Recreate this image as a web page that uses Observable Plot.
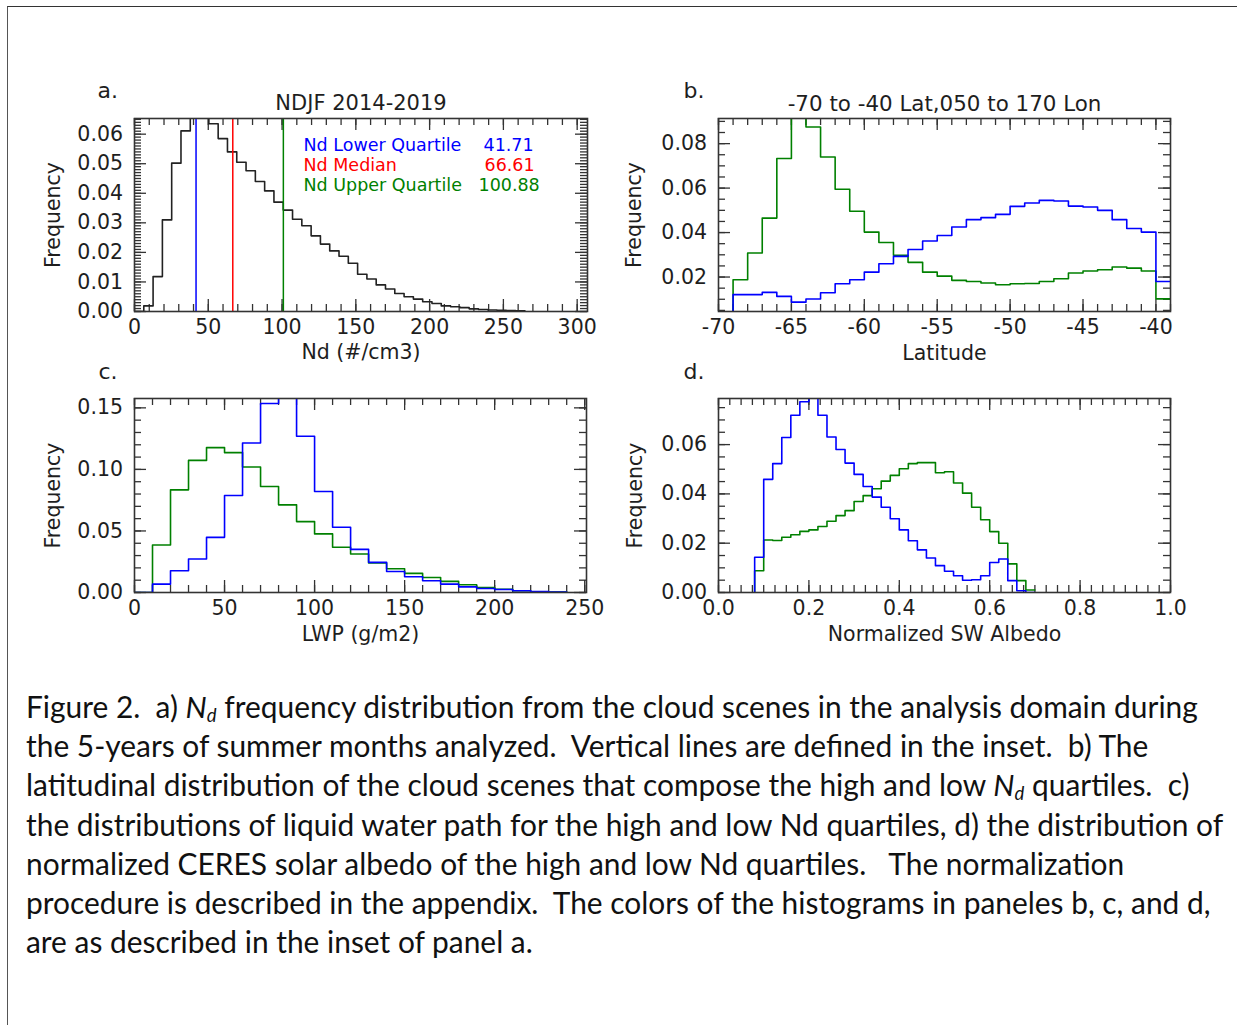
<!DOCTYPE html>
<html>
<head>
<meta charset="utf-8">
<script src="https://cdn.jsdelivr.net/npm/d3@7"></script>
<script src="https://cdn.jsdelivr.net/npm/@observablehq/plot@0.6"></script>
<style>
  html, body { margin: 0; padding: 0; background: #fff; }
  body { width: 1237px; height: 1025px; position: relative; overflow: hidden; }
  .panel { position: absolute; }
  #border { position: absolute; left: 7px; top: 6px; width: 1240px; height: 1030px;
            border-left: 1.5px solid #555; border-top: 1.5px solid #333; }
  #caption { position: absolute; left: 26px; top: 687px; font-family: Lato, "Open Sans", sans-serif;
             font-size: 29.9px; line-height: 39.2px; color: #111; }
  #caption div { white-space: pre; height: 39.2px; }
  #caption sub { font-size: 0.62em; vertical-align: -0.22em; line-height: 0; }
</style>
</head>
<body>
<div id="border"></div>
<div id="pa" class="panel" style="left:0px;top:60px"></div>
<div id="pb" class="panel" style="left:610px;top:60px"></div>
<div id="pc" class="panel" style="left:0px;top:365px"></div>
<div id="pd" class="panel" style="left:610px;top:365px"></div>
<div id="caption">
<div>Figure 2.  a) <i>N<sub>d</sub></i> frequency distribution from the cloud scenes in the analysis domain during</div>
<div>the 5-years of summer months analyzed.  Vertical lines are defined in the inset.  b) The</div>
<div>latitudinal distribution of the cloud scenes that compose the high and low <i>N<sub>d</sub></i> quartiles.  c)</div>
<div>the distributions of liquid water path for the high and low Nd quartiles, d) the distribution of</div>
<div>normalized CERES solar albedo of the high and low Nd quartiles.   The normalization</div>
<div>procedure is described in the appendix.  The colors of the histograms in paneles b, c, and d,</div>
<div>are as described in the inset of panel a.</div>
</div>
<script>
// ---------------- Panel a: Nd histogram ----------------
const ndBinEdges = [0, 6.3, 12.6, 18.9, 25.2, 31.5, 37.8, 44.1, 50.4, 56.7, 63.0, 69.3, 75.6, 81.9, 88.2, 94.5,
  100.8, 107.1, 113.4, 119.7, 126.0, 132.3, 138.6, 144.9, 151.2, 157.5, 163.8, 170.1, 176.4, 182.7, 189.0,
  195.3, 201.6, 207.9, 214.2, 220.5, 226.8, 233.1, 239.4, 245.7, 252.0, 258.3, 264.6];
const ndFrequency = [0.0000, 0.0019, 0.0118, 0.0310, 0.0502, 0.0611, 0.0690, 0.0660, 0.0635, 0.0585,
  0.0540, 0.0505, 0.0476, 0.0440, 0.0408, 0.0370, 0.0343, 0.0312, 0.0290, 0.0256, 0.0228, 0.0205,
  0.0187, 0.0163, 0.0126, 0.0110, 0.0090, 0.0076, 0.0061, 0.0050, 0.0042, 0.0033, 0.0027, 0.0019,
  0.0016, 0.0013, 0.0009, 0.0007, 0.0005, 0.0004, 0.0003, 0.0002];
const quartileNames = ["Nd Lower Quartile", "Nd Median", "Nd Upper Quartile"];
const quartileValues = [41.71, 66.61, 100.88];
const quartileColors = ["#0000ff", "#ff0000", "#008000"];
const ndXTicks = [0, 50, 100, 150, 200, 250, 300];
const ndYTicks = [0.00, 0.01, 0.02, 0.03, 0.04, 0.05, 0.06];

// ---------------- Panel b: latitude ----------------
const latBinEdges = [-69, -68, -67, -66, -65, -64, -63, -62, -61, -60, -59, -58, -57, -56, -55, -54, -53,
  -52, -51, -50, -49, -48, -47, -46, -45, -44, -43, -42, -41, -40, -39];
const latLowNd = [0.0121, 0.0121, 0.0131, 0.0113, 0.0087, 0.0101, 0.0129, 0.0170, 0.0188, 0.0222, 0.0260,
  0.0293, 0.0324, 0.0362, 0.0387, 0.0425, 0.0458, 0.0467, 0.0482, 0.0518, 0.0533, 0.0545, 0.0542,
  0.0519, 0.0515, 0.0500, 0.0458, 0.0418, 0.0402, 0.0180];
const latHighNd = [0.0188, 0.0308, 0.0465, 0.0733, 0.0950, 0.0875, 0.0740, 0.0595, 0.0496, 0.0402, 0.0355,
  0.0298, 0.0266, 0.0222, 0.0204, 0.0185, 0.0180, 0.0173, 0.0165, 0.0170, 0.0171, 0.0180, 0.0192,
  0.0218, 0.0227, 0.0233, 0.0245, 0.0240, 0.0227, 0.0102];
const latXTicks = [-70, -65, -60, -55, -50, -45, -40];
const latYTicks = [0.02, 0.04, 0.06, 0.08];

// ---------------- Panel c: LWP ----------------
const lwpBinEdges = [0, 10, 20, 30, 40, 50, 60, 70, 80, 90, 100, 110, 120, 130, 140, 150, 160, 170, 180,
  190, 200, 210, 220, 230, 240];
const lwpLowNd = [0.0000, 0.0068, 0.0177, 0.0272, 0.0448, 0.0788, 0.1214, 0.1535, 0.1700, 0.1269, 0.0821,
  0.0530, 0.0350, 0.0245, 0.0170, 0.0128, 0.0095, 0.0068, 0.0046, 0.0033, 0.0024, 0.0014, 0.0008, 0.0003];
const lwpHighNd = [0.0000, 0.0386, 0.0834, 0.1073, 0.1177, 0.1136, 0.1019, 0.0861, 0.0712, 0.0576, 0.0476,
  0.0367, 0.0313, 0.0240, 0.0193, 0.0155, 0.0122, 0.0090, 0.0063, 0.0041, 0.0027, 0.0014, 0.0005, 0.0003];
const lwpXTicks = [0, 50, 100, 150, 200, 250];
const lwpYTicks = [0.00, 0.05, 0.10, 0.15];

// ---------------- Panel d: albedo ----------------
const albedoBinEdges = [0.08, 0.10, 0.12, 0.14, 0.16, 0.18, 0.20, 0.22, 0.24, 0.26, 0.28, 0.30, 0.32, 0.34,
  0.36, 0.38, 0.40, 0.42, 0.44, 0.46, 0.48, 0.50, 0.52, 0.54, 0.56, 0.58, 0.60, 0.62, 0.64, 0.66, 0.68, 0.70];
const albedoLowNd = [0.0143, 0.0459, 0.0523, 0.0629, 0.0719, 0.0774, 0.0820, 0.0719, 0.0631, 0.0580, 0.0525,
  0.0479, 0.0430, 0.0387, 0.0346, 0.0299, 0.0254, 0.0210, 0.0173, 0.0140, 0.0109, 0.0086, 0.0068,
  0.0050, 0.0052, 0.0068, 0.0122, 0.0136, 0.0048, 0.0007, 0.0000];
const albedoHighNd = [0.0088, 0.0213, 0.0211, 0.0224, 0.0234, 0.0248, 0.0254, 0.0268, 0.0289, 0.0312, 0.0332,
  0.0369, 0.0393, 0.0421, 0.0452, 0.0475, 0.0502, 0.0523, 0.0527, 0.0527, 0.0486, 0.0490, 0.0444,
  0.0403, 0.0346, 0.0295, 0.0247, 0.0200, 0.0116, 0.0048, 0.0010];
const albedoXTicks = [0.0, 0.2, 0.4, 0.6, 0.8, 1.0];
const albedoYTicks = [0.00, 0.02, 0.04, 0.06];

// ---------------- helpers ----------------
const INK = "#1e1e1e";
const AXIS = "#333";

function steps(edges, values) {
  const pts = [{x: edges[0], y: 0}];
  values.forEach((v, i) => pts.push({x: edges[i], y: v}));
  pts.push({x: edges[values.length], y: values[values.length - 1]});
  return pts;
}
function within(arr, dom) {
  const lo = Math.min(...dom), hi = Math.max(...dom);
  return arr.filter(v => v >= lo - 1e-9 && v <= hi + 1e-9);
}
function insideTicks(xMajor, xMinor, yMajor, yMinor, fw, fh) {
  const st = {stroke: AXIS, strokeWidth: 1.3};
  const MAJ = 12, MIN = 7;
  return [
    Plot.tickX(xMinor, {x: d => d, insetTop: fh - MIN, ...st}),
    Plot.tickX(xMinor, {x: d => d, insetBottom: fh - MIN, ...st}),
    Plot.tickX(xMajor, {x: d => d, insetTop: fh - MAJ, ...st}),
    Plot.tickX(xMajor, {x: d => d, insetBottom: fh - MAJ, ...st}),
    Plot.tickY(yMinor, {y: d => d, insetRight: fw - MIN, ...st}),
    Plot.tickY(yMinor, {y: d => d, insetLeft: fw - MIN, ...st}),
    Plot.tickY(yMajor, {y: d => d, insetRight: fw - MAJ, ...st}),
    Plot.tickY(yMajor, {y: d => d, insetLeft: fw - MAJ, ...st})
  ];
}

function panel(cfg) {
  const fw = cfg.width - cfg.ml - cfg.mr;
  const fh = cfg.height - cfg.mt - cfg.mb;
  const marks = [
    ...insideTicks(within(cfg.xMajor, cfg.xDomain), within(cfg.xMinor, cfg.xDomain),
                   within(cfg.yMajor, cfg.yDomain), within(cfg.yMinor, cfg.yDomain), fw, fh),
    ...cfg.marks,
    Plot.frame({stroke: AXIS, strokeWidth: 1.6}),
    Plot.text([cfg.letter], {text: d => d, frameAnchor: "top-left", dx: cfg.letterDx, dy: cfg.letterDy,
      textAnchor: "start", lineAnchor: "bottom", fontSize: 22, fill: INK})
  ];
  if (cfg.title) marks.push(Plot.text([cfg.title], {text: d => d, frameAnchor: "top", dy: cfg.titleDy,
      lineAnchor: "bottom", fontSize: cfg.titleSize, fill: INK}));
  return Plot.plot({
    width: cfg.width, height: cfg.height,
    marginLeft: cfg.ml, marginRight: cfg.mr, marginTop: cfg.mt, marginBottom: cfg.mb,
    style: {fontFamily: "DejaVu Sans", fontSize: "20.5px", color: INK, background: "transparent", overflow: "visible"},
    x: {domain: cfg.xDomain, ticks: cfg.xLabels, tickFormat: cfg.xFormat, tickSize: 0, tickPadding: 8,
        label: cfg.xLabel, labelAnchor: "center", labelArrow: "none", labelOffset: cfg.xLabelOffset},
    y: {domain: cfg.yDomain, ticks: cfg.yLabels, tickFormat: d3.format(".2f"), tickSize: 0, tickPadding: 11.5,
        label: "Frequency", labelAnchor: "center", labelArrow: "none", labelOffset: cfg.yLabelOffset},
    marks
  });
}

function histLine(edges, values, color) {
  return Plot.line(steps(edges, values), {x: "x", y: "y", curve: "step-after", stroke: color,
    strokeWidth: 1.6, clip: true});
}

// ---------------- panel a ----------------
const aMarks = [histLine(ndBinEdges, ndFrequency, "#222")];
quartileValues.forEach((v, i) =>
  aMarks.push(Plot.ruleX([v], {x: d => d, stroke: quartileColors[i], strokeWidth: 1.5, clip: true})));
const legendNameDx = 169, legendValueDx = [349, 350, 344];
quartileNames.forEach((name, i) => {
  aMarks.push(Plot.text([name], {text: d => d, frameAnchor: "top-left", dx: legendNameDx, dy: 32.7 + 20 * i,
    lineAnchor: "bottom", textAnchor: "start", fontSize: 17.5, fill: quartileColors[i]}));
  aMarks.push(Plot.text([quartileValues[i]], {text: d => d.toFixed(2), frameAnchor: "top-left",
    dx: legendValueDx[i], dy: 32.7 + 20 * i, lineAnchor: "bottom", textAnchor: "start", fontSize: 17.5,
    fill: quartileColors[i]}));
});

document.getElementById("pa").append(panel({
  width: 610, height: 305, ml: 134, mr: 23, mt: 58, mb: 54,
  xDomain: [0, 307], yDomain: [0, 0.0653],
  xLabels: ndXTicks, yLabels: ndYTicks, xFormat: d => String(d),
  xMajor: ndXTicks, xMinor: d3.range(0, 307, 10), yMajor: ndYTicks, yMinor: d3.range(0, 0.0653, 0.001),
  xLabel: "Nd (#/cm3)", xLabelOffset: 47, yLabelOffset: 89,
  letter: "a.", letterDx: -37, letterDy: -21, title: "NDJF 2014-2019", titleDy: -9, titleSize: 21,
  marks: aMarks
}));

// ---------------- panel b ----------------
document.getElementById("pb").append(panel({
  width: 620, height: 305, ml: 108, mr: 60, mt: 58, mb: 54,
  xDomain: [-70, -39], yDomain: [0.0045, 0.0913],
  xLabels: latXTicks, yLabels: latYTicks, xFormat: d => String(d),
  xMajor: latXTicks, xMinor: d3.range(-70, -38.9, 1), yMajor: latYTicks, yMinor: d3.range(0.005, 0.0913, 0.005),
  xLabel: "Latitude", xLabelOffset: 48, yLabelOffset: 92,
  letter: "b.", letterDx: -35, letterDy: -21, title: "-70 to -40 Lat,050 to 170 Lon", titleDy: -8, titleSize: 21.4,
  marks: [histLine(latBinEdges, latHighNd, "#008000"), histLine(latBinEdges, latLowNd, "#0000ff")]
}));

// ---------------- panel c ----------------
document.getElementById("pc").append(panel({
  width: 610, height: 287, ml: 134, mr: 24, mt: 33, mb: 60,
  xDomain: [0, 251], yDomain: [0, 0.1576],
  xLabels: lwpXTicks, yLabels: lwpYTicks, xFormat: d => String(d),
  xMajor: lwpXTicks, xMinor: d3.range(0, 251, 10), yMajor: lwpYTicks, yMinor: d3.range(0, 0.1576, 0.01),
  xLabel: "LWP (g/m2)", xLabelOffset: 48, yLabelOffset: 89,
  letter: "c.", letterDx: -36, letterDy: -20, title: "",
  marks: [histLine(lwpBinEdges, lwpHighNd, "#008000"), histLine(lwpBinEdges, lwpLowNd, "#0000ff")]
}));

// ---------------- panel d ----------------
document.getElementById("pd").append(panel({
  width: 620, height: 287, ml: 108, mr: 60, mt: 33, mb: 60,
  xDomain: [0, 1], yDomain: [0, 0.0787],
  xLabels: albedoXTicks, yLabels: albedoYTicks, xFormat: d3.format(".1f"),
  xMajor: albedoXTicks, xMinor: d3.range(0, 1.0001, 0.025), yMajor: albedoYTicks, yMinor: d3.range(0, 0.0787, 0.005),
  xLabel: "Normalized SW Albedo", xLabelOffset: 48, yLabelOffset: 91,
  letter: "d.", letterDx: -35, letterDy: -20, title: "",
  marks: [histLine(albedoBinEdges, albedoHighNd, "#008000"), histLine(albedoBinEdges, albedoLowNd, "#0000ff")]
}));
</script>
</body>
</html>
